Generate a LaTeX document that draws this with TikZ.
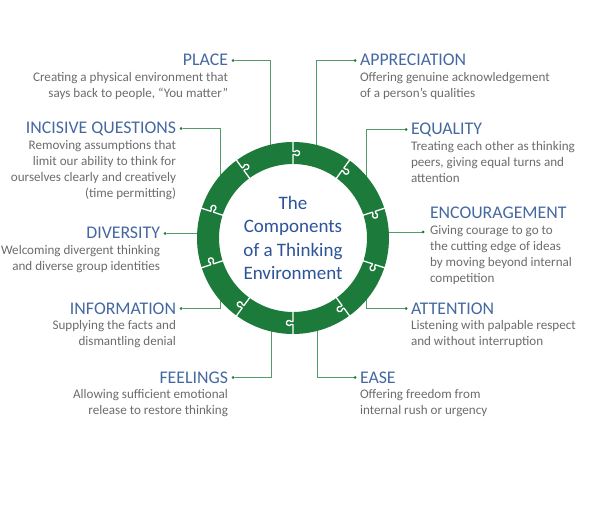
\documentclass[tikz,border=0pt]{standalone}
\usepackage{fontspec}
\setmainfont{Carlito}
\usepackage{xcolor}
\usetikzlibrary{positioning, math}
\definecolor{ringgreen}{RGB}{28,122,58}
\definecolor{linkgreen}{RGB}{84,154,108}
\definecolor{headblue}{RGB}{68,104,160}
\definecolor{hubblue}{RGB}{44,84,152}
\definecolor{bodygray}{RGB}{108,108,108}

\begin{document}
\begin{tikzpicture}[x=1pt, y=-1pt,
  headtext/.style={inner sep=0, outer sep=0, text=headblue, font=\fontsize{17.8}{20}\selectfont, text height=11pt, text depth=0pt},
  bodytext/.style={inner sep=0, outer sep=0, text=bodygray, font=\fontsize{13.1}{16.3}\selectfont},
  bead/.style={circle, fill=ringgreen, inner sep=0, outer sep=0, minimum size=3pt},
  link/.style={draw=linkgreen, line width=0.9pt},
  seam/.style={draw=white, line width=1.3pt, line join=round}]
\tikzmath{
\rin=74; \rout=96; \rmid=85;
}
\useasboundingbox (0,0) rectangle (612,518);
\coordinate (hub) at (293,238);

% left side
\node[headtext, anchor=base east] (place) at (228,66) {PLACE};
\node[bodytext, align=right, below=6pt of place.south east, anchor=north east] (placetxt) {Creating a physical environment that\\says back to people, “You matter”};
\node[bead, right=3.5pt of place.east] (placedot) {};

\node[headtext, anchor=base east] (incisive) at (176,134) {INCISIVE QUESTIONS};
\node[bodytext, align=right, below=6pt of incisive.south east, anchor=north east] (incisivetxt) {Removing assumptions that\\limit our ability to think for\\ourselves clearly and creatively\\(time permitting)};
\node[bead, right=3.5pt of incisive.east] (incisivedot) {};

\node[headtext, anchor=base east] (diversity) at (160,239) {DIVERSITY};
\node[bodytext, align=right, below=6pt of diversity.south east, anchor=north east] (diversitytxt) {Welcoming divergent thinking\\and diverse group identities};
\node[bead, right=3.5pt of diversity.east] (diversitydot) {};

\node[headtext, anchor=base east] (information) at (176,314) {INFORMATION};
\node[bodytext, align=right, below=6pt of information.south east, anchor=north east] (informationtxt) {Supplying the facts and\\dismantling denial};
\node[bead, right=3.5pt of information.east] (informationdot) {};

\node[headtext, anchor=base east] (feelings) at (228,383) {FEELINGS};
\node[bodytext, align=right, below=6pt of feelings.south east, anchor=north east] (feelingstxt) {Allowing sufficient emotional\\release to restore thinking};
\node[bead, right=3.5pt of feelings.east] (feelingsdot) {};

% right side
\node[headtext, anchor=base west] (appreciation) at (360,66) {APPRECIATION};
\node[bodytext, align=left, below=6pt of appreciation.south west, anchor=north west] (appreciationtxt) {Offering genuine acknowledgement\\of a person’s qualities};
\node[bead, left=3.5pt of appreciation.west] (appreciationdot) {};

\node[headtext, anchor=base west] (equality) at (411,135) {EQUALITY};
\node[bodytext, align=left, below=6pt of equality.south west, anchor=north west] (equalitytxt) {Treating each other as thinking\\peers, giving equal turns and\\attention};
\node[bead, left=3.5pt of equality.west] (equalitydot) {};

\node[headtext, anchor=base west] (encouragement) at (430,219) {ENCOURAGEMENT};
\node[bodytext, align=left, below=6pt of encouragement.south west, anchor=north west] (encouragementtxt) {Giving courage to go to\\the cutting edge of ideas\\by moving beyond internal\\competition};
\node[bead] (encouragementdot) at (423,232) {};

\node[headtext, anchor=base west] (attention) at (411,314) {ATTENTION};
\node[bodytext, align=left, below=6pt of attention.south west, anchor=north west] (attentiontxt) {Listening with palpable respect\\and without interruption};
\node[bead, left=3.5pt of attention.west] (attentiondot) {};

\node[headtext, anchor=base west] (ease) at (360,383) {EASE};
\node[bodytext, align=left, below=6pt of ease.south west, anchor=north west] (easetxt) {Offering freedom from\\internal rush or urgency};
\node[bead, left=3.5pt of ease.west] (easedot) {};

% connectors, ending under the ring
\draw[link] (placedot) -| ([xshift=-23pt]hub);
\draw[link] (incisivedot) -| ([xshift=-73pt]hub);
\draw[link] (diversitydot) -- (diversitydot -| hub);
\draw[link] (informationdot) -| ([xshift=-73pt]hub);
\draw[link] (feelingsdot) -| ([xshift=-22pt]hub);
\draw[link] (appreciationdot) -| ([xshift=23pt]hub);
\draw[link] (equalitydot) -| ([xshift=73pt]hub);
\draw[link] (encouragementdot) -- (encouragementdot -| hub);
\draw[link] (attentiondot) -| ([xshift=73pt]hub);
\draw[link] (easedot) -| ([xshift=24pt]hub);

\node[circle, draw=ringgreen, fill=white, line width=\rout-\rin, minimum size=2*\rmid, inner sep=0, align=center, text=hubblue, font=\fontsize{19}{23.5}\selectfont] (ring) at (hub) {The\\Components\\of a Thinking\\Environment};

% puzzle seams
\foreach \a in {18,54,...,342}{
  \draw[seam, shift={(hub)}, rotate=\a] (73,0) -- (83.5,0) -- (83.5,1.9) arc[start angle=234.7, end angle=-54.7, radius=2.6] -- (86.5,0) -- (97,0);
}

\end{tikzpicture}
\end{document}
